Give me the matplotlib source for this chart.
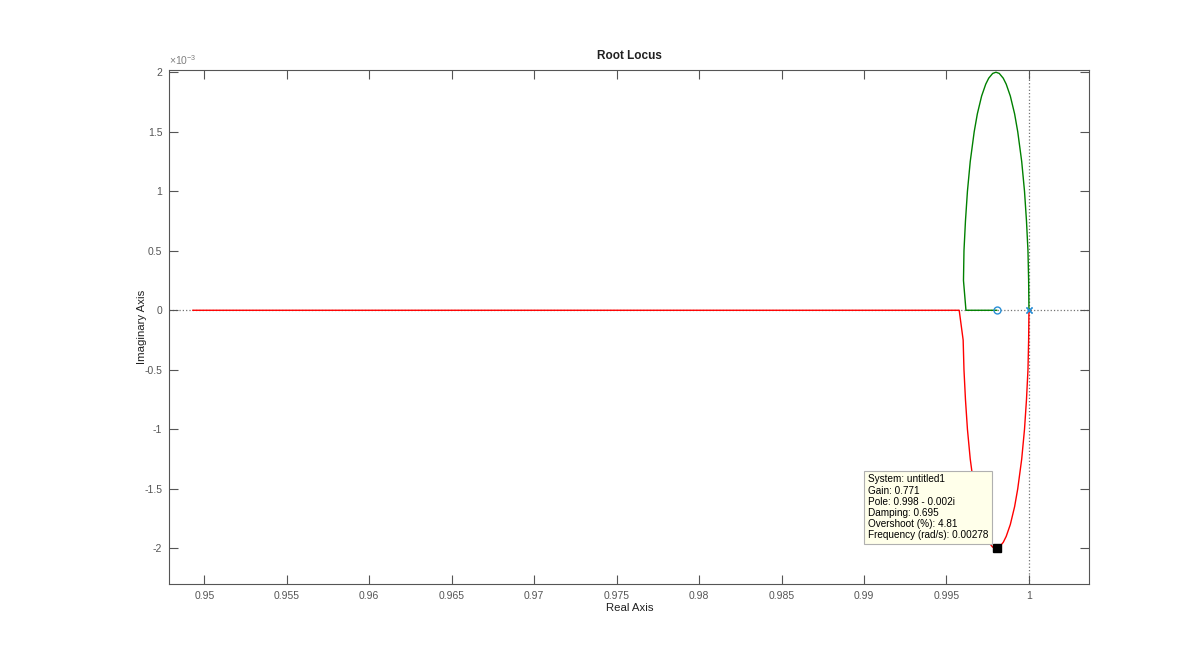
import matplotlib
matplotlib.use("Agg")
import matplotlib.pyplot as plt
from matplotlib.ticker import FuncFormatter, MultipleLocator

plt.rcParams['font.family'] = ['Liberation Sans', 'DejaVu Sans']
plt.rcParams['mathtext.default'] = 'regular'

# branch 1 (green, upper half) : real part, imaginary part in units of 1e-3
green_re = [1.00000, 0.99998, 0.99994, 0.99985, 0.99973, 0.99956, 0.99932, 0.99913,
            0.99887, 0.99862, 0.99844, 0.99820, 0.99800, 0.99780, 0.99756, 0.99738,
            0.99713, 0.99687, 0.99668, 0.99644, 0.99627, 0.99615, 0.99606, 0.99603,
            0.99618, 0.99804]
green_im = [0.00, 0.25, 0.50, 0.75, 1.00, 1.25, 1.50, 1.65,
            1.80, 1.90, 1.95, 1.99, 2.00, 1.99, 1.95, 1.90,
            1.80, 1.65, 1.50, 1.25, 1.00, 0.75, 0.50, 0.25,
            0.00, 0.00]

# branch 2 (red, lower half then off to the left along the real axis)
red_re = [1.00000, 0.99998, 0.99994, 0.99985, 0.99973, 0.99956, 0.99932, 0.99913,
          0.99887, 0.99862, 0.99844, 0.99820, 0.99800, 0.99780, 0.99756, 0.99738,
          0.99713, 0.99687, 0.99668, 0.99644, 0.99627, 0.99615, 0.99606, 0.99601,
          0.99577, 0.94931]
red_im = [0.00, -0.25, -0.50, -0.75, -1.00, -1.25, -1.50, -1.65,
          -1.80, -1.90, -1.95, -1.99, -2.00, -1.99, -1.95, -1.90,
          -1.80, -1.65, -1.50, -1.25, -1.00, -0.75, -0.50, -0.25,
          0.00, 0.00]

poles_re = [1.0, 1.0]
poles_im = [0.0, 0.0]
zeros_re = [0.99804]
zeros_im = [0.0]

tip_re, tip_im = 0.99808, -2.0
tip_lines = ["System: untitled1", "Gain: 0.771", "Pole: 0.998 - 0.002i",
             "Damping: 0.695", "Overshoot (%): 4.81", "Frequency (rad/s): 0.00278"]

xticks = [0.95, 0.955, 0.96, 0.965, 0.97, 0.975, 0.98, 0.985, 0.99, 0.995, 1.0]

axcol = '#555555'

fig = plt.figure(figsize=(12.04, 6.57), dpi=100)
ax = fig.add_axes([0.1406, 0.1111, 0.7641, 0.7824])

ax.axhline(0, color='0.45', ls=':', lw=0.9, zorder=1)
ax.axvline(1.0, color='0.45', ls=':', lw=0.9, zorder=1)

ax.plot(red_re, red_im, color='#ff0000', lw=1.0, zorder=2)
ax.plot(green_re, green_im, color='#008000', lw=1.0, zorder=2)
ax.plot(poles_re, poles_im, 'x', color='#2a8fd6', ms=5, mew=1.0, zorder=3)
ax.plot(zeros_re, zeros_im, 'o', color='#2a8fd6', mfc='none', ms=5, mew=1.0, zorder=3)
ax.plot([tip_re], [tip_im], 's', color='black', ms=6, zorder=4)

ax.annotate("\n".join(tip_lines), xy=(tip_re, tip_im), xytext=(-9, 8),
            textcoords='offset pixels', ha='right', va='bottom', fontsize=7.2,
            multialignment='left', linespacing=1.15, color='black', zorder=5,
            bbox=dict(boxstyle='square,pad=0.35', fc='#ffffea', ec='#b0b0b0', lw=0.8))

ax.set_xlim(0.947878, 1.003656)
ax.set_ylim(-2.300, 2.019)
ax.set_xticks(xticks)
ax.xaxis.set_major_formatter(FuncFormatter(lambda v, p: '%g' % round(v, 4)))
ax.yaxis.set_major_locator(MultipleLocator(0.5))
ax.yaxis.set_major_formatter(FuncFormatter(lambda v, p: '%g' % round(v, 3)))

ax.tick_params(direction='in', length=6.5, width=0.8, colors=axcol, labelsize=7.5,
               top=True, right=True, pad=5)
for s in ax.spines.values():
    s.set_color(axcol)
    s.set_linewidth(0.8)

ax.text(0.0, 1.006, '×10$^{-3}$', transform=ax.transAxes, fontsize=7.5,
        color='#808080', ha='left', va='bottom')

ax.set_title('Root Locus', fontsize=8.5, fontweight='bold', color='#202020', pad=8)
ax.set_xlabel('Real Axis', fontsize=8.2, color='#202020', labelpad=1.5)
ax.set_ylabel('Imaginary Axis', fontsize=8.2, color='#202020', labelpad=-2)

fig.savefig('out.png', dpi=100, facecolor='white')
